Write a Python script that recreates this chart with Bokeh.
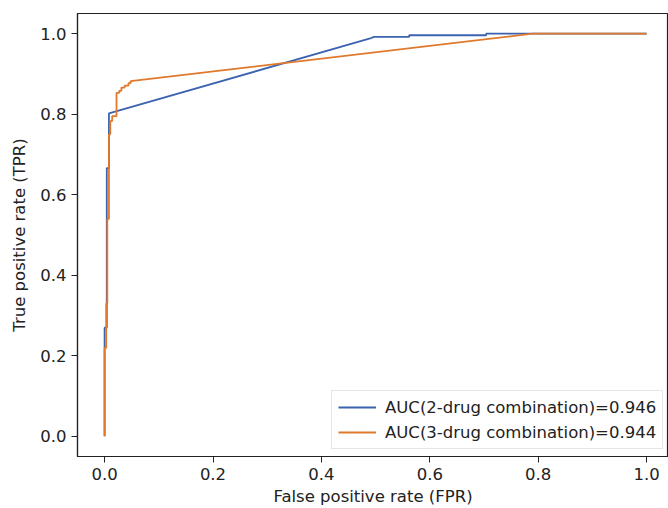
from bokeh.plotting import figure
from bokeh.models import FixedTicker, PrintfTickFormatter, Legend, LegendItem
from bokeh.embed import file_html
from bokeh.resources import INLINE

# ROC curve for the 2-drug combination
fpr_2drug = [0.0, 0.0, 0.004, 0.004, 0.008, 0.008, 0.49, 0.497, 0.562, 0.562, 0.704, 0.704, 1.0]
tpr_2drug = [0.0, 0.27, 0.27, 0.666, 0.666, 0.802, 0.988, 0.992, 0.992, 0.996, 0.996, 1.0, 1.0]

# ROC curve for the 3-drug combination
fpr_3drug = [0.0, 0.0, 0.003, 0.003, 0.005, 0.005, 0.008, 0.008, 0.0105, 0.0105, 0.014, 0.014,
             0.022, 0.022, 0.027, 0.027, 0.031, 0.031, 0.037, 0.037, 0.044, 0.044, 0.048, 0.048,
             0.79, 1.0]
tpr_3drug = [0.0, 0.22, 0.22, 0.33, 0.33, 0.54, 0.54, 0.75, 0.75, 0.783, 0.783, 0.795,
             0.795, 0.853, 0.853, 0.858, 0.858, 0.866, 0.866, 0.871, 0.871, 0.877, 0.877, 0.882,
             1.0, 1.0]

labels = ["AUC(2-drug combination)=0.946", "AUC(3-drug combination)=0.944"]
tick_values = [0.0, 0.2, 0.4, 0.6, 0.8, 1.0]

FONT = "DejaVu Sans"
FS = "16.5px"

p = figure(width=668, height=508, x_range=(-0.05, 1.0404), y_range=(-0.05, 1.05),
           output_backend="svg", toolbar_location=None,
           min_border_left=77, min_border_top=13, min_border_bottom=51, min_border_right=0)

p.xgrid.visible = False
p.ygrid.visible = False
p.outline_line_color = "#222222"
p.outline_line_width = 1.2

for ax in (p.xaxis[0], p.yaxis[0]):
    ax.ticker = FixedTicker(ticks=tick_values)
    ax.formatter = PrintfTickFormatter(format="%.1f")
    ax.major_label_text_font = FONT
    ax.major_label_text_font_size = FS
    ax.major_label_text_color = "#222222"
    ax.axis_label_text_font = FONT
    ax.axis_label_text_font_size = FS
    ax.axis_label_text_font_style = "normal"
    ax.axis_label_text_color = "#222222"
    ax.major_tick_out = 6
    ax.major_tick_in = 0
    ax.minor_tick_out = 0
    ax.minor_tick_in = 0
    ax.axis_line_color = "#222222"
    ax.axis_line_width = 1.2
    ax.major_tick_line_color = "#222222"
    ax.major_label_standoff = 5

p.xaxis.axis_label = "False positive rate (FPR)"
p.yaxis.axis_label = "True positive rate (TPR)"
p.xaxis.axis_label_standoff = 4
p.yaxis.axis_label_standoff = 8

r2 = p.line(fpr_2drug, tpr_2drug, line_color="#3b63b0", line_width=1.8)
r3 = p.line(fpr_3drug, tpr_3drug, line_color="#e0792b", line_width=1.8)

legend = Legend(items=[LegendItem(label=labels[0], renderers=[r2]),
                       LegendItem(label=labels[1], renderers=[r3])],
                location=(254, 7), margin=0)
legend.label_text_font = FONT
legend.label_text_font_size = FS
legend.label_text_color = "#222222"
legend.glyph_width = 38
legend.glyph_height = 20
legend.label_height = 20
legend.label_standoff = 9
legend.spacing = 5
legend.padding = 6
legend.border_line_color = "#cccccc"
legend.border_line_width = 1
legend.background_fill_color = "white"
legend.background_fill_alpha = 0.85
p.add_layout(legend, "center")

open("out.html", "w").write(file_html(p, INLINE))
